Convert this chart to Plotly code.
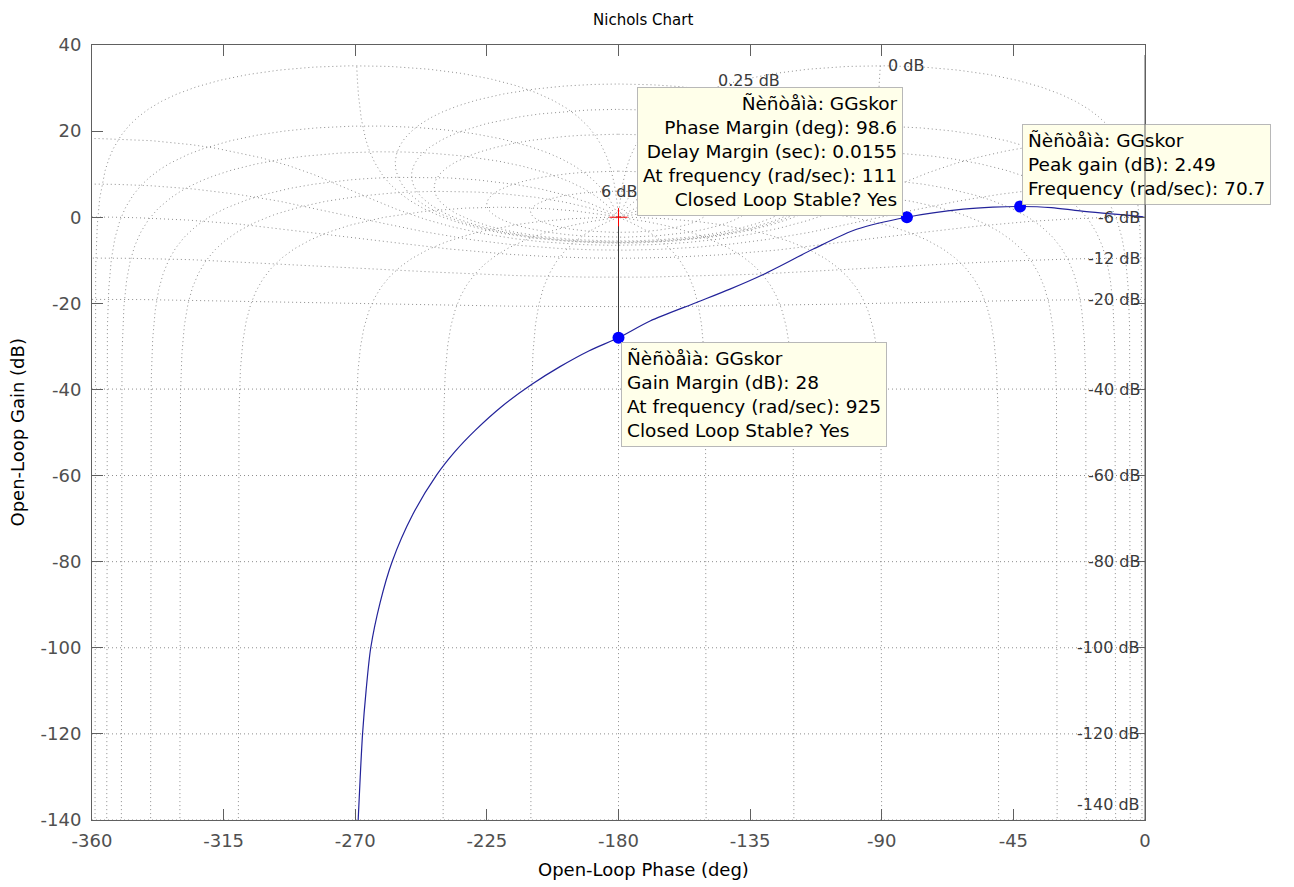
import numpy as np
import plotly.graph_objects as go

# Open-loop response of GGskor on the Nichols plane, ordered by rising frequency
ol_phase = [-0.5, -22.2, -32.0, -42.7, -52.0, -62.1, -81.4, -98.6, -113.4, -130.5,
            -141.9, -153.3, -169.2, -180.0, -190.0, -200.0, -209.6, -220.0, -229.0,
            -236.0, -242.1, -250.3, -257.4, -261.5, -264.7, -266.3, -267.5, -268.3,
            -269.0]
ol_gain = [0.1, 1.47, 2.24, 2.49, 2.34, 1.86, 0.0, -2.8, -7.4, -13.3,
           -16.7, -19.8, -24.1, -28.0, -31.0, -34.7, -38.8, -44.0, -49.5,
           -54.5, -59.8, -69.0, -80.0, -89.5, -100.0, -110.0, -120.0, -130.0,
           -140.0]

# Stability margins and resonant peak reported by the data tips
pm_deg = 98.6
delay_margin = 0.0155
pm_freq = 111
gm_db = 28
gm_freq = 925
peak_db = 2.49
peak_phase = -42.7
peak_freq = 70.7
system_name = "Ñèñòåìà: GGskor"

# Nichols grid levels: closed-loop gain (dB) and closed-loop phase (deg)
isogain_db = [6, 3, 1, 0.5, 0.25, 0, -1, -3, -6, -12, -20, -40, -60, -80, -100, -120, -140]
isophase_deg = [-1, -5, -10, -20, -30, -50, -90, -120, -150, -180,
                -210, -240, -270, -310, -330, -340, -350, -355, -359]

x_ticks = [-360, -315, -270, -225, -180, -135, -90, -45, 0]
y_ticks = [40, 20, 0, -20, -40, -60, -80, -100, -120, -140]

FONT = "DejaVu Sans"
GRID_COLOR = "#8e8e8e"
AXIS_COLOR = "#606060"
LABEL_COLOR = "#3a3a3a"


def open_loop(T):
    L = T / (1 - T)
    return 20 * np.log10(np.abs(L)), np.degrees(np.unwrap(np.angle(L)))


grid_x, grid_y = [], []

# iso-gain contours |T| = M
for M in isogain_db:
    m = 10 ** (M / 20)
    lo, hi = (-1, -359) if M == 0 else (0, -360)
    th = np.radians(np.concatenate([np.linspace(lo, -10, 1200),
                                    np.linspace(-10, -350, 900)[1:-1],
                                    np.linspace(-350, hi, 1200)]))
    g, p = open_loop(m * np.exp(1j * th))
    p = p - 360 * np.round((p.mean() + 180) / 360)
    grid_x += list(p) + [None]
    grid_y += list(g) + [None]

# iso-phase contours arg(T) = N
m_range = 10 ** np.concatenate([np.linspace(-8, -0.2, 600),
                                np.linspace(-0.2, 0.2, 1600)[1:-1],
                                np.linspace(0.2, 4, 600)])
for N in isophase_deg:
    g, p = open_loop(m_range * np.exp(1j * np.radians(N)))
    p = p - 360 * np.round((p[0] - N) / 360)
    grid_x += list(p) + [None]
    grid_y += list(g) + [None]

fig = go.Figure()
fig.add_trace(go.Scatter(x=grid_x, y=grid_y, mode="lines", hoverinfo="skip",
                         line=dict(color=GRID_COLOR, width=1, dash="1px,3px")))

# response curve
fig.add_trace(go.Scatter(x=ol_phase, y=ol_gain, mode="lines",
                         line=dict(color="#23239a", width=1.2, shape="spline", smoothing=0.8)))

# gain-margin indicator and critical point
fig.add_trace(go.Scatter(x=[-180, -180], y=[0, -gm_db], mode="lines",
                         line=dict(color="#3a3a3a", width=1)))
fig.add_trace(go.Scatter(x=[-180], y=[0], mode="markers",
                         marker=dict(symbol="cross-thin", size=13,
                                     line=dict(color="#ff0000", width=1))))

# data-tip markers
pm_phase = -180 + pm_deg
fig.add_trace(go.Scatter(x=[-180, pm_phase, peak_phase], y=[-gm_db, 0, peak_db],
                         mode="markers", marker=dict(color="#0000ff", size=12)))

annotations = []
label_font = dict(family=FONT, size=16, color=LABEL_COLOR)

# grid labels for negative closed-loop gains, at the 0 deg edge
for M in isogain_db:
    if M < -3:
        m = 10 ** (M / 20)
        g0 = 20 * np.log10(m / (1 - m))
        annotations.append(dict(x=0, y=max(g0, -136.5), xref="x", yref="y",
                                text=f"{M:g} dB", showarrow=False, xanchor="right",
                                yanchor="middle", xshift=-3, font=label_font))

# 0 dB label at the end of its contour
T_end = np.exp(1j * np.radians(-1.0))
L_end = T_end / (1 - T_end)
annotations.append(dict(x=np.degrees(np.angle(L_end)), y=20 * np.log10(abs(L_end)),
                        xref="x", yref="y", text="0 dB", showarrow=False,
                        xanchor="left", yanchor="middle", xshift=6, font=label_font))

# positive closed-loop gain labels
pos_labels = [(6, -180.0, 0), (0.25, -135.5, 17)]
for M, ph, ys in pos_labels:
    m = 10 ** (M / 20)
    c = -m * m / (m * m - 1)
    r = m / (m * m - 1)
    u = np.cos(np.radians(ph))
    rho = (2 * c * u + np.sqrt((2 * c * u) ** 2 - 4 * (c * c - r * r))) / 2
    annotations.append(dict(x=ph, y=20 * np.log10(rho), xref="x", yref="y",
                            text=f"{M:g} dB", showarrow=False, xanchor="center",
                            yanchor="middle", yshift=ys, font=label_font))

tip_font = dict(family=FONT, size=18.5, color="#000000")
tip_style = dict(showarrow=False, bgcolor="#ffffea", bordercolor="#b8b8b8",
                 borderwidth=1, borderpad=5, font=tip_font, xref="x", yref="y")

annotations.append(dict(
    x=pm_phase, y=0, xanchor="right", yanchor="bottom", xshift=-4, yshift=1, align="right",
    text=(f"{system_name}<br>Phase Margin (deg): {pm_deg:g}<br>"
          f"Delay Margin (sec): {delay_margin:g}<br>At frequency (rad/sec): {pm_freq:g}<br>"
          f"Closed Loop Stable? Yes"),
    **tip_style))
annotations.append(dict(
    x=-180, y=-gm_db, xanchor="left", yanchor="top", xshift=2, yshift=-4, align="left",
    text=(f"{system_name}<br>Gain Margin (dB): {gm_db:g}<br>"
          f"At frequency (rad/sec): {gm_freq:g}<br>Closed Loop Stable? Yes"),
    **tip_style))
annotations.append(dict(
    x=peak_phase, y=peak_db, xanchor="left", yanchor="bottom", xshift=2, yshift=2, align="left",
    text=(f"{system_name}<br>Peak gain (dB): {peak_db:g}<br>"
          f"Frequency (rad/sec): {peak_freq:g}"),
    **tip_style))

# right border of the axes drawn over the data tips
annotations.append(dict(x=0, y=-140, ax=0, ay=40, xref="x", yref="y", axref="x", ayref="y",
                        text=" ", showarrow=True, arrowhead=0, arrowwidth=1,
                        arrowcolor=AXIS_COLOR, standoff=0, startstandoff=0))

# titles
annotations.append(dict(x=0.5233, y=1.032, xref="paper", yref="paper", text="Nichols Chart",
                        showarrow=False, xanchor="center", yanchor="middle",
                        font=dict(family=FONT, size=15, color="#000000")))
annotations.append(dict(x=0.5233, y=-0.0645, xref="paper", yref="paper",
                        text="Open-Loop Phase (deg)", showarrow=False,
                        xanchor="center", yanchor="middle",
                        font=dict(family=FONT, size=18, color="#000000")))
annotations.append(dict(x=-0.0703, y=0.5, xref="paper", yref="paper",
                        text="Open-Loop Gain (dB)", showarrow=False, textangle=-90,
                        xanchor="center", yanchor="middle",
                        font=dict(family=FONT, size=18, color="#000000")))

axis_common = dict(showgrid=False, zeroline=False, showline=True, linecolor=AXIS_COLOR,
                   linewidth=1, mirror="ticks", ticks="inside", ticklen=11,
                   tickcolor=AXIS_COLOR, tickwidth=1,
                   tickfont=dict(family=FONT, size=18, color="#505050"))

fig.update_layout(
    width=1294, height=887, autosize=False,
    margin=dict(l=92, r=149, t=45, b=67),
    paper_bgcolor="#ffffff", plot_bgcolor="#ffffff",
    showlegend=False,
    xaxis=dict(range=[-360, 0], tickvals=x_ticks, ticktext=[str(v) for v in x_ticks],
               ticklabelstandoff=4, **axis_common),
    yaxis=dict(range=[-140, 40], tickvals=y_ticks, ticktext=[str(v) for v in y_ticks],
               ticklabelstandoff=6, **axis_common),
    annotations=annotations,
)

fig.write_html("out.html")
